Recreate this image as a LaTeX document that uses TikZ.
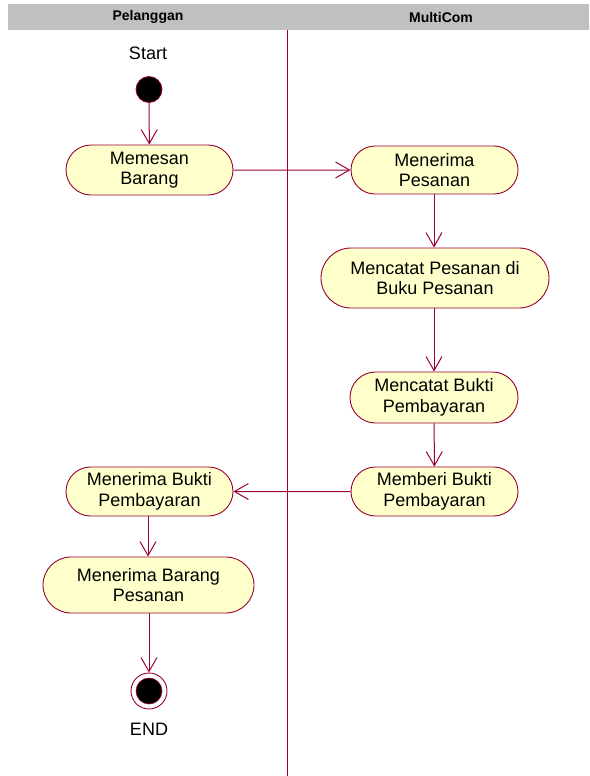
\documentclass[tikz,border=0pt]{standalone}
\usepackage{fontspec}
\setmainfont{Liberation Sans}
\usetikzlibrary{shapes.misc,arrows.meta}
\definecolor{umlred}{HTML}{990033}
\definecolor{umlfill}{HTML}{FFFFCC}
\definecolor{hdrgray}{HTML}{C0C0C0}
\tikzset{
  activity/.style={rounded rectangle, draw=umlred, fill=umlfill, line width=0.9pt,
    inner sep=0pt, align=center, font=\fontsize{18}{20.5}\selectfont},
  flow/.style={draw=umlred, line width=1pt, -{Straight Barb[length=14pt,width=16pt,line width=1pt]}},
  lbl/.style={font=\fontsize{18}{20}\selectfont},
  hdr/.style={font=\bfseries\fontsize{14}{16}\selectfont},
}
\begin{document}
\begin{tikzpicture}[x=1pt,y=-1pt]
\useasboundingbox (0,0) rectangle (589,776);
% header
\fill[hdrgray] (8,4) rectangle (589,30);
\node[hdr] (h1) at (148,17) {Pelanggan};
\node[hdr] (h2) at (441,17) {MultiCom};
% lane divider
\draw[umlred, line width=0.8pt] (287.5,30) -- (287.5,776);
% start
\node[lbl] (startlbl) at (148,53) {Start};
\node[circle, fill=black, draw=umlred, line width=0.8pt, minimum size=26pt, inner sep=0pt] (start) at (149,89.5) {};
% activities
\node[activity, minimum width=167pt, minimum height=50pt] (memesan) at (149.5,170) {Memesan\\Barang};
\node[activity, minimum width=167pt, minimum height=48pt] (pesanan) at (434.5,170) {Menerima\\Pesanan};
\node[activity, minimum width=228pt, minimum height=60pt] (catat) at (435,278) {Mencatat Pesanan di\\Buku Pesanan};
\node[activity, minimum width=168pt, minimum height=51pt] (bukti) at (434,397.5) {Mencatat Bukti\\Pembayaran};
\node[activity, minimum width=167pt, minimum height=49pt] (memberi) at (434.5,491.5) {Memberi Bukti\\Pembayaran};
\node[activity, minimum width=167pt, minimum height=49pt] (terima) at (149.5,491.5) {Menerima Bukti\\Pembayaran};
\node[activity, minimum width=211pt, minimum height=56pt] (barang) at (148.5,585) {Menerima Barang\\Pesanan};
% end
\node[circle, fill=white, draw=umlred, line width=0.9pt, minimum size=36pt, inner sep=0pt] (end) at (149,691) {};
\node[circle, fill=black, draw=umlred, line width=0.6pt, minimum size=26pt, inner sep=0pt] (endin) at (end.center) {};
\node[lbl] (endlbl) at (149,729) {END};
% flows
\draw[flow] (start) -- (memesan);
\draw[flow] (memesan) -- (pesanan);
\draw[flow] (pesanan.south -| 434,0) -- (catat.north -| 434,0);
\draw[flow] (catat.south -| 434,0) -- (bukti.north -| 434,0);
\draw[flow] (bukti) -- (memberi);
\draw[flow] (memberi) -- (terima);
\draw[flow] (terima.south -| 148,0) -- (barang.north -| 148,0);
\draw[flow] (barang.south -| 149,0) -- (end);
\end{tikzpicture}
\end{document}
